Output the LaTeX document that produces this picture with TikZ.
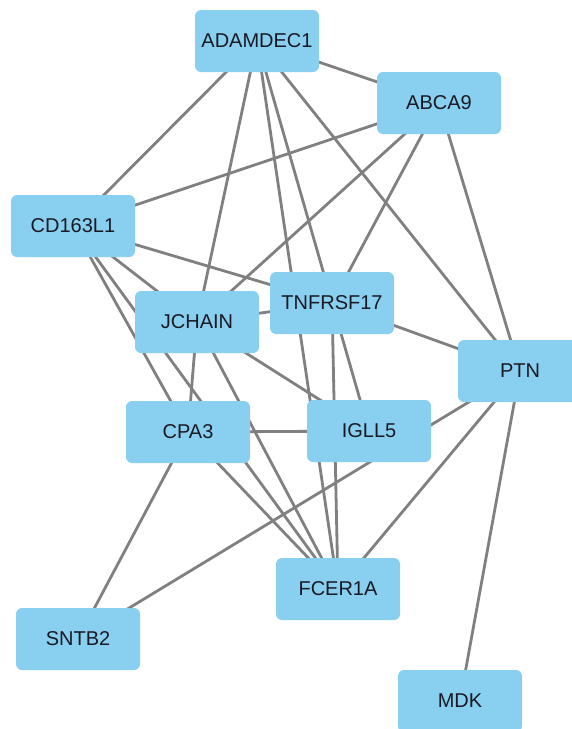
\documentclass[tikz,border=0pt]{standalone}
\usepackage{fontspec}
\setmainfont{Liberation Sans}
\usetikzlibrary{backgrounds}
\definecolor{nodeblue}{RGB}{137,207,240}
\definecolor{edgegray}{RGB}{128,128,128}
\definecolor{labelink}{RGB}{25,25,35}
\begin{document}
\begin{tikzpicture}[x=1pt,y=-1pt,
  gene/.style={fill=nodeblue, rounded corners=6pt, minimum width=124pt, minimum height=62pt,
    inner sep=0pt, font=\fontsize{20}{23}\selectfont, text=labelink},
  link/.style={draw=edgegray, line width=2.8pt}]
\useasboundingbox (0,0) rectangle (572,729);
\clip (0,0) rectangle (572,729);
\node[gene] (adamdec1) at (257,41) {ADAMDEC1};
\node[gene] (abca9) at (439,103) {ABCA9};
\node[gene] (cd163l1) at (73,226) {CD163L1};
\node[gene] (tnfrsf17) at (332,303) {TNFRSF17};
\node[gene] (jchain) at (197,322) {JCHAIN};
\node[gene] (ptn) at (520,371) {PTN};
\node[gene] (cpa3) at (188,432) {CPA3};
\node[gene] (igll5) at (369,431) {IGLL5};
\node[gene] (fcer1a) at (338,589) {FCER1A};
\node[gene] (sntb2) at (78,639) {SNTB2};
\node[gene] (mdk) at (460,701) {MDK};
\begin{pgfonlayer}{background}
\draw[link] (adamdec1.center) -- (abca9.center);
\draw[link] (adamdec1.center) -- (cd163l1.center);
\draw[link] (adamdec1.center) -- (jchain.center);
\draw[link] (adamdec1.center) -- (fcer1a.center);
\draw[link] (adamdec1.center) -- (igll5.center);
\draw[link] (adamdec1.center) -- (ptn.center);
\draw[link] (abca9.center) -- (cd163l1.center);
\draw[link] (abca9.center) -- (jchain.center);
\draw[link] (abca9.center) -- (tnfrsf17.center);
\draw[link] (abca9.center) -- (ptn.center);
\draw[link] (cd163l1.center) -- (tnfrsf17.center);
\draw[link] (cd163l1.center) -- (jchain.center);
\draw[link] (cd163l1.center) -- (cpa3.center);
\draw[link] (cd163l1.center) -- (fcer1a.center);
\draw[link] (jchain.center) -- (tnfrsf17.center);
\draw[link] (jchain.center) -- (cpa3.center);
\draw[link] (jchain.center) -- (fcer1a.center);
\draw[link] (jchain.center) -- (igll5.center);
\draw[link] (tnfrsf17.center) -- (ptn.center);
\draw[link] (tnfrsf17.center) -- (fcer1a.center);
\draw[link] (cpa3.center) -- (igll5.center);
\draw[link] (cpa3.center) -- (fcer1a.center);
\draw[link] (cpa3.center) -- (sntb2.center);
\draw[link] (ptn.center) -- (sntb2.center);
\draw[link] (ptn.center) -- (fcer1a.center);
\draw[link] (ptn.center) -- (mdk.center);
\end{pgfonlayer}
\end{tikzpicture}
\end{document}
